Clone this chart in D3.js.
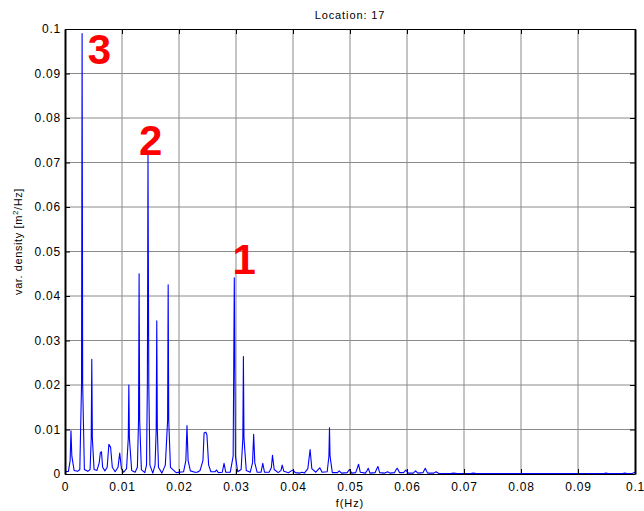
<!DOCTYPE html>
<html>
<head>
<meta charset="utf-8">
<script src="https://cdn.jsdelivr.net/npm/d3@7"></script>
<style>
  body { margin: 0; background: #fff; }
  text { font-family: Arial, "Liberation Sans", sans-serif; }
</style>
</head>
<body>
<div id="chart"></div>
<script>
// spectrum: frequency (Hz) and variance density (m2/Hz)
const freq = [
  0.0000, 0.0006, 0.0009, 0.00105, 0.0012, 0.0016, 0.0022, 0.0026, 0.0029, 0.0030,
  0.0031, 0.0034, 0.0040, 0.0044, 0.0046, 0.0047, 0.0048, 0.0051, 0.0056, 0.0060,
  0.0062, 0.0064, 0.0066, 0.0070, 0.0074, 0.0077, 0.0080, 0.0083, 0.0088, 0.0093,
  0.0096, 0.0099, 0.0103, 0.0108, 0.0111, 0.0112, 0.0113, 0.0117, 0.0123, 0.0127,
  0.0129, 0.0130, 0.0131, 0.0134, 0.0140, 0.0143, 0.01445, 0.01456, 0.0147, 0.0149,
  0.0154, 0.0158, 0.0160, 0.0161, 0.0162, 0.0164, 0.0170, 0.0176, 0.0180, 0.0181,
  0.0182, 0.0185, 0.0195, 0.0208, 0.0212, 0.0214, 0.0216, 0.0220, 0.0228, 0.0232,
  0.0237, 0.0242, 0.0244, 0.0247, 0.0249, 0.0252, 0.0256, 0.0263, 0.0266, 0.0269,
  0.0276, 0.0279, 0.0282, 0.0290, 0.0295, 0.0297, 0.0299, 0.0303, 0.0309, 0.0312,
  0.0313, 0.0314, 0.0318, 0.0325, 0.0329, 0.0331, 0.0333, 0.0337, 0.0344, 0.0347,
  0.0350, 0.0358, 0.0362, 0.0364, 0.0367, 0.0374, 0.0379, 0.0381, 0.0384, 0.0392,
  0.0397, 0.0400, 0.0404, 0.0412, 0.0416, 0.0420, 0.0426, 0.0430, 0.0433, 0.0440,
  0.0444, 0.0447, 0.0451, 0.0460, 0.0463, 0.0464, 0.0465, 0.0469, 0.0478, 0.0481,
  0.0485, 0.0495, 0.0499, 0.0503, 0.0510, 0.0513, 0.0515, 0.0518, 0.0527, 0.0530,
  0.0532, 0.0535, 0.0544, 0.0547, 0.0549, 0.0552, 0.0561, 0.0566, 0.0570, 0.0578,
  0.0581, 0.0583, 0.0587, 0.0594, 0.0598, 0.0602, 0.0611, 0.0615, 0.0619, 0.0628,
  0.0632, 0.0636, 0.0647, 0.0651, 0.0656, 0.0676, 0.0682, 0.0688, 0.0712, 0.0716,
  0.0722, 0.0800, 0.0900, 0.0945, 0.0949, 0.0953, 0.0978, 0.0982, 0.0986, 0.0995,
  0.1000
];
const density = [
  0.0005, 0.0006, 0.0030, 0.0097, 0.0040, 0.0008, 0.0006, 0.0010, 0.0200, 0.0990,
  0.0200, 0.0010, 0.0006, 0.0010, 0.0080, 0.0258, 0.0080, 0.0010, 0.0008, 0.0025,
  0.0048, 0.0050, 0.0015, 0.0007, 0.0015, 0.0067, 0.0060, 0.0015, 0.0005, 0.0015,
  0.0047, 0.0012, 0.0004, 0.0012, 0.0080, 0.0200, 0.0080, 0.0008, 0.0004, 0.0015,
  0.0120, 0.0450, 0.0120, 0.0010, 0.0003, 0.0020, 0.0200, 0.0717, 0.0200, 0.0020,
  0.0002, 0.0020, 0.0100, 0.0344, 0.0100, 0.0015, 0.0002, 0.0020, 0.0120, 0.0425,
  0.0120, 0.0015, 0.0003, 0.0005, 0.0030, 0.0109, 0.0030, 0.0007, 0.0004, 0.0004,
  0.0008, 0.0030, 0.0092, 0.0094, 0.0088, 0.0020, 0.0005, 0.0005, 0.0009, 0.0003,
  0.0004, 0.0024, 0.0004, 0.0004, 0.0040, 0.0441, 0.0040, 0.0005, 0.0010, 0.0080,
  0.0264, 0.0080, 0.0008, 0.0004, 0.0025, 0.0089, 0.0025, 0.0004, 0.0004, 0.0024,
  0.0004, 0.0004, 0.0014, 0.0042, 0.0010, 0.0003, 0.0008, 0.0020, 0.0006, 0.0003,
  0.0007, 0.0009, 0.0003, 0.0002, 0.0004, 0.0002, 0.0012, 0.0055, 0.0012, 0.0004,
  0.0010, 0.0014, 0.0004, 0.0005, 0.0040, 0.0104, 0.0040, 0.0003, 0.0003, 0.0007,
  0.0002, 0.0003, 0.0010, 0.0002, 0.0003, 0.0014, 0.0022, 0.0004, 0.0002, 0.0008,
  0.0013, 0.0002, 0.0003, 0.0012, 0.0017, 0.0003, 0.0002, 0.0005, 0.0002, 0.0003,
  0.0010, 0.0013, 0.0003, 0.0003, 0.0009, 0.0002, 0.0002, 0.0007, 0.0002, 0.0003,
  0.0013, 0.0002, 0.0002, 0.0005, 0.0001, 0.0001, 0.0002, 0.0001, 0.0001, 0.0002,
  0.0001, 0.0001, 0.0001, 0.0001, 0.0002, 0.0001, 0.0001, 0.0002, 0.0001, 0.0001,
  0.0004
];

const xTicks = [0, 0.01, 0.02, 0.03, 0.04, 0.05, 0.06, 0.07, 0.08, 0.09, 0.1];
const xTickLabels = ["0", "0.01", "0.02", "0.03", "0.04", "0.05", "0.06", "0.07", "0.08", "0.09", "0.1"];
const yTicks = [0, 0.01, 0.02, 0.03, 0.04, 0.05, 0.06, 0.07, 0.08, 0.09, 0.1];
const yTickLabels = ["0", "0.01", "0.02", "0.03", "0.04", "0.05", "0.06", "0.07", "0.08", "0.09", "0.1"];

// peak numbers written on the plot
const peakLabels = ["3", "2", "1"];
const peakLabelF = [0.0040, 0.0130, 0.0294];
const peakLabelV = [0.0921, 0.0716, 0.0450];

let margin = { top: 29, right: 9, bottom: 37, left: 65 },
    width = 644 - margin.left - margin.right,
    height = 511 - margin.top - margin.bottom;

let svg = d3.select("#chart")
  .append("svg")
    .attr("width", 644)
    .attr("height", 511)
  .append("g")
    .attr("transform", `translate(${margin.left},${margin.top})`);

let x = d3.scaleLinear().domain([0, 0.1]).range([0, width]);
let y = d3.scaleLinear().domain([0, 0.1]).range([height, 0]);

// grid
svg.append("g")
  .selectAll("line")
  .data(xTicks.slice(1, -1))
  .join("line")
    .attr("x1", d => x(d)).attr("x2", d => x(d))
    .attr("y1", 0).attr("y2", height)
    .attr("stroke", "#8a8a8a")
    .attr("stroke-width", 1);
svg.append("g")
  .selectAll("line")
  .data(yTicks.slice(1, -1))
  .join("line")
    .attr("y1", d => y(d)).attr("y2", d => y(d))
    .attr("x1", 0).attr("x2", width)
    .attr("stroke", "#8a8a8a")
    .attr("stroke-width", 1);

// the spectrum
let pts = freq.map((f, i) => [f, density[i]]);
svg.append("path")
  .datum(pts)
  .attr("fill", "none")
  .attr("stroke", "#0000ff")
  .attr("stroke-width", 1.1)
  .attr("stroke-linejoin", "round")
  .attr("d", d3.line()
    .x(d => x(d[0]))
    .y(d => y(d[1])));

// axes, ticks pointing inwards like matlab
let xAxis = svg.append("g")
  .attr("transform", `translate(0,${height})`)
  .call(d3.axisBottom(x).tickValues(xTicks)
    .tickFormat((d, i) => xTickLabels[i])
    .tickSize(-5).tickSizeOuter(0).tickPadding(8));
let xTop = svg.append("g")
  .call(d3.axisTop(x).tickValues(xTicks).tickFormat("")
    .tickSize(-5).tickSizeOuter(0));
let yAxis = svg.append("g")
  .call(d3.axisLeft(y).tickValues(yTicks)
    .tickFormat((d, i) => yTickLabels[i])
    .tickSize(-5).tickSizeOuter(0).tickPadding(4));
let yRight = svg.append("g")
  .attr("transform", `translate(${width},0)`)
  .call(d3.axisRight(y).tickValues(yTicks).tickFormat("")
    .tickSize(-5).tickSizeOuter(0));

svg.selectAll(".tick text")
  .attr("fill", "#000")
  .style("font-size", "12px")
  .style("letter-spacing", "0.8px");
svg.selectAll(".tick line").attr("stroke", "#000");
xAxis.select(".domain").attr("stroke", "#000").attr("stroke-width", 1.2);
xTop.select(".domain").attr("stroke", "#000").attr("stroke-width", 1.2);
yAxis.select(".domain").attr("stroke", "#000").attr("stroke-width", 2);
yRight.select(".domain").attr("stroke", "#000").attr("stroke-width", 2);

// peak numbers
svg.append("g")
  .selectAll("text")
  .data(peakLabels)
  .join("text")
    .attr("x", (d, i) => x(peakLabelF[i]))
    .attr("y", (d, i) => y(peakLabelV[i]))
    .attr("fill", "#ff0000")
    .style("font-size", "42px")
    .style("font-weight", "bold")
    .text(d => d);

// title and labels
svg.append("text")
  .attr("x", width / 2)
  .attr("y", -10)
  .attr("text-anchor", "middle")
  .style("font-size", "11px")
  .style("letter-spacing", "0.9px")
  .text("Location: 17");

svg.append("text")
  .attr("x", width / 2)
  .attr("y", height + 33)
  .attr("text-anchor", "middle")
  .style("font-size", "11px")
  .style("letter-spacing", "0.9px")
  .text("f(Hz)");

let yl = svg.append("text")
  .attr("transform", `translate(-43,${height / 2 - 10}) rotate(-90)`)
  .attr("text-anchor", "middle")
  .style("font-size", "11px")
  .style("letter-spacing", "0.6px");
yl.append("tspan").text("var. density [m");
yl.append("tspan").attr("baseline-shift", "super").style("font-size", "8px").text("2");
yl.append("tspan").text("/Hz]");
</script>
</body>
</html>
